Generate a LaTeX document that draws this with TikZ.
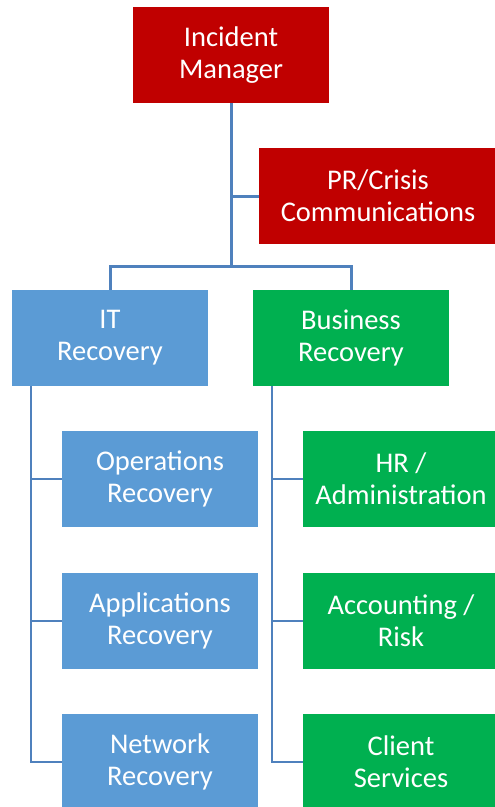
\documentclass[tikz,border=0pt]{standalone}
\usepackage{fontspec}
\setmainfont{Carlito}
\definecolor{imred}{HTML}{C00000}
\definecolor{itblue}{HTML}{5B9BD5}
\definecolor{bzgreen}{HTML}{00B050}
\definecolor{linkblue}{HTML}{4F81BD}
\begin{document}
\begin{tikzpicture}[x=1pt, y=-1pt,
        box/.style={minimum width=196pt, minimum height=96pt, inner sep=2pt, text=white, align=center, font=\fontsize{28.5}{32}\selectfont},
        red box/.style={box, fill=imred},
        blue box/.style={box, fill=itblue},
        green box/.style={box, fill=bzgreen},
        link/.style={draw=linkblue, line width=3pt},
        thin link/.style={draw=linkblue, line width=2.4pt}
    ]
	\useasboundingbox (0,0) rectangle (495,807);
	\node[red box] (im) at (231,55) {Incident\\Manager};
	\node[red box, minimum width=238pt] (pr) at (378,196) {PR/Crisis\\Communications};
	\node[blue box] (it) at (110,338) {IT\\Recovery};
	\node[green box] (br) at (351,338) {Business\\Recovery};
	\node[blue box] (ops) at (160,479) {Operations\\Recovery};
	\node[blue box] (app) at (160,621) {Applications\\Recovery};
	\node[blue box] (net) at (160,762) {Network\\Recovery};
	\node[green box] (hr) at (401,479) {HR /\\Administration};
	\node[green box] (acc) at (401,621) {Accounting /\\Risk};
	\node[green box] (cs) at (401,762) {Client\\Services};
	\coordinate (hub) at (231,266);
	\coordinate (itspine) at (31,386);
	\coordinate (brspine) at (272,386);
	\draw[link] (im.south) -- (hub);
	\draw[link] (pr.west) -- (pr.west -| im.south);
	\draw[link] (it.north) |- (hub) -| (br.north);
	\draw[thin link] (itspine) |- (net.west);
	\draw[thin link] (itspine |- ops.west) -- (ops.west);
	\draw[thin link] (itspine |- app.west) -- (app.west);
	\draw[thin link] (brspine) |- (cs.west);
	\draw[thin link] (brspine |- hr.west) -- (hr.west);
	\draw[thin link] (brspine |- acc.west) -- (acc.west);
\end{tikzpicture}
\end{document}
